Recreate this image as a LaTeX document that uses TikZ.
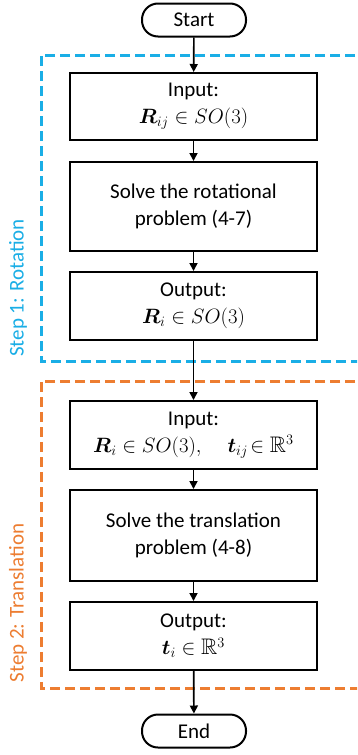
\documentclass[tikz,border=0pt]{standalone}
\usepackage{amsmath,amssymb,bm}
\usepackage{fontspec}
\setmainfont{Carlito}
\usetikzlibrary{arrows.meta}
\definecolor{stepblue}{HTML}{1AAEE6}
\definecolor{steporange}{HTML}{ED7D31}
% formulas set a little larger than the running text
\newcommand{\bigmath}[1]{{\fontsize{22.5}{27}\selectfont$#1$}}
\begin{document}
\begin{tikzpicture}[x=1pt,y=-1pt,
  every node/.style={font=\fontsize{21}{27}\selectfont},
  procbox/.style={draw=black,line width=2pt,minimum width=247pt,align=center,inner sep=0pt},
  terminal/.style={draw=black,line width=2pt,rounded corners=16pt,minimum width=104pt,minimum height=33pt,inner sep=0pt},
  flow/.style={line width=1.7pt,-{Triangle[length=8pt,width=8pt]}},
  stepframe/.style={line width=3pt,dash pattern=on 10pt off 5pt},
  steplabel/.style={rotate=90,font=\fontsize{21}{25}\selectfont}]
\useasboundingbox (0,0) rectangle (357,755);
\clip (0,0) rectangle (357,755);
\fill[white] (0,0) rectangle (357,755);

% step frames, open to the right
\draw[stepframe,draw=stepblue] (400,55) -- (41,55) -- (41,361) -- (400,361);
\draw[stepframe,draw=steporange] (400,381) -- (41,381) -- (41,688) -- (400,688);
\node[steplabel,text=stepblue] (lbl1) at (18,288) {Step 1: Rotation};
\node[steplabel,text=steporange] (lbl2) at (18,603) {Step 2: Translation};

% flow nodes
\node[terminal] (start) at (194,20) {Start};
\node[procbox,minimum height=67pt] (in1) at (193.5,106.5) {Input:\\ \bigmath{\boldsymbol{R}_{ij}\in SO(3)}};
\node[procbox,minimum height=89pt] (rot) at (193.5,206.5) {Solve the rotational\\ problem (4-7)};
\node[procbox,minimum height=68pt] (out1) at (193.5,306) {Output:\\ \bigmath{\boldsymbol{R}_{i}\in SO(3)}};
\node[procbox,minimum height=68pt] (in2) at (193.5,435) {Input:\\ \bigmath{\boldsymbol{R}_{i}\in SO(3),\quad \boldsymbol{t}_{ij}\!\in \mathbb{R}^3}};
\node[procbox,minimum height=91pt] (tra) at (193.5,535.5) {Solve the translation\\ problem (4-8)};
\node[procbox,minimum height=68pt] (out2) at (193.5,636) {Output:\\ \bigmath{\boldsymbol{t}_{i}\in \mathbb{R}^3}};
\node[terminal] (end) at (194,731) {End};

% connectors
\draw[flow] (start) -- (in1);
\draw[flow] (in1) -- (rot);
\draw[flow] (rot) -- (out1);
\draw[flow] (out1) -- (in2);
\draw[flow] (in2) -- (tra);
\draw[flow] (tra) -- (out2);
\draw[flow] (out2) -- (end);
\end{tikzpicture}
\end{document}
